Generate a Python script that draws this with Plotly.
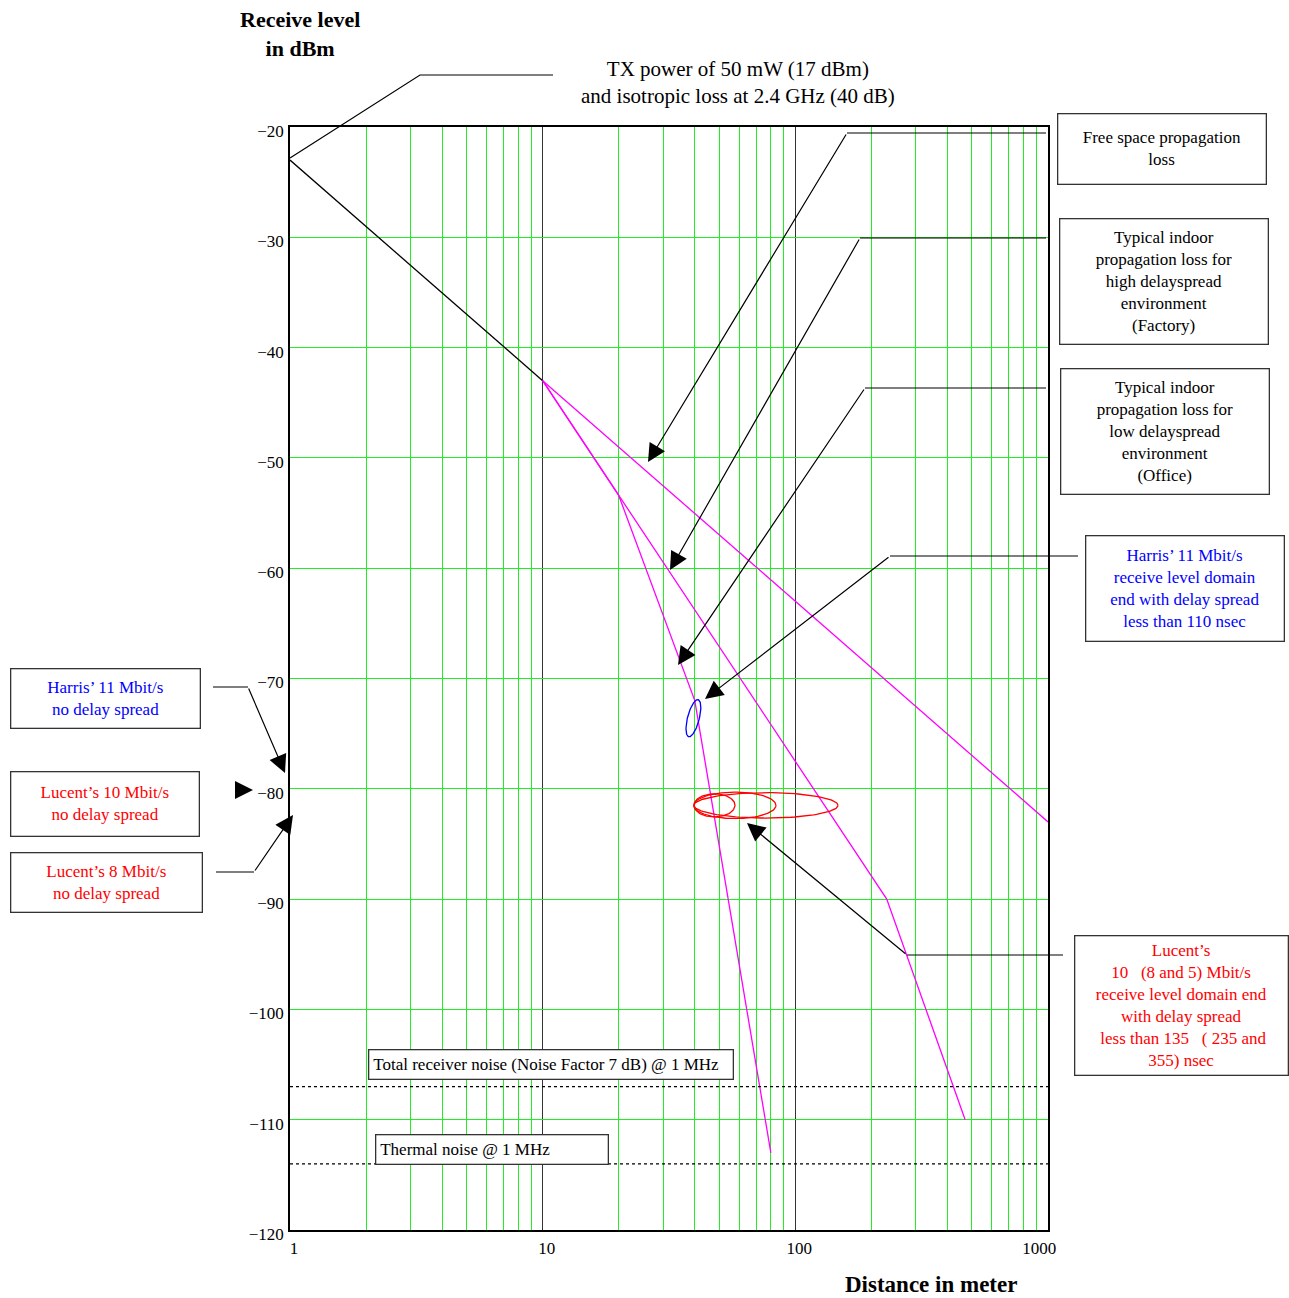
import numpy as np
import plotly.graph_objects as go

# propagation curves (distance in m, receive level in dBm)
free_near_x = [1, 10]
free_near_y = [-23, -43]
free_far_x = [10, 1000]
free_far_y = [-43, -83]
factory_x = [10, 230, 470]
factory_y = [-43, -90, -110]
office_x = [10, 20, 40, 80]
office_y = [-43, -53.4, -72, -113]

total_noise = -107
thermal_noise = -114

# receive level domain ends
harris_x = 39.5
harris_y = -73.6
harris_half_dec = 0.024
harris_half_db = 1.68
harris_shear_dec = 0.017

lucent_left = 39.7
lucent_right = [57.7, 83.8, 147.5]
lucent_level = -81.5
lucent_half_db = [1.05, 1.2, 1.15]

x_ticks = [1, 10, 100, 1000]
x_ticktext = ["1", "10", "100", "1000\u00a0\u00a0\u00a0\u00a0\u00a0\u00a0"]

SERIF = "Liberation Serif"
MAG = "#ff00ff"
GREEN = "#22ee22"


def px(x):
    return (x - 290) / 758


def py(y):
    return (1230 - y) / 1103


fig = go.Figure()

fig.add_trace(go.Scatter(x=free_near_x, y=free_near_y, mode="lines",
                         line=dict(color="black", width=1.3)))
fig.add_trace(go.Scatter(x=free_far_x, y=free_far_y, mode="lines",
                         line=dict(color=MAG, width=1.3)))
fig.add_trace(go.Scatter(x=factory_x, y=factory_y, mode="lines",
                         line=dict(color=MAG, width=1.3)))
fig.add_trace(go.Scatter(x=office_x, y=office_y, mode="lines",
                         line=dict(color=MAG, width=1.3)))

for lvl in [total_noise, thermal_noise]:
    fig.add_trace(go.Scatter(x=[1, 1000], y=[lvl, lvl], mode="lines",
                             line=dict(color="black", width=1.3, dash="dot")))

t = np.linspace(0, 2 * np.pi, 120)
lc = np.log10(harris_x)
fig.add_trace(go.Scatter(
    x=10 ** (lc + harris_half_dec * np.cos(t) + harris_shear_dec * np.sin(t)),
    y=harris_y + harris_half_db * np.sin(t),
    mode="lines", line=dict(color="blue", width=1.3)))

for right, half in zip(lucent_right, lucent_half_db):
    l0, l1 = np.log10(lucent_left), np.log10(right)
    fig.add_trace(go.Scatter(
        x=10 ** ((l0 + l1) / 2 + (l1 - l0) / 2 * np.cos(t)),
        y=lucent_level + half * np.sin(t),
        mode="lines", line=dict(color="red", width=1.3)))

shapes = []
anns = []

# leader polylines
def leader(points, head=None):
    path = "M " + " L ".join(f"{px(a)},{py(b)}" for a, b in points)
    shapes.append(dict(type="path", path=path, xref="paper", yref="paper",
                       line=dict(color="black", width=1.2)))
    if head:
        tx, ty = points[-1]
        anns.append(dict(x=px(head[0]), y=py(head[1]), xref="paper", yref="paper",
                         ax=tx - head[0], ay=ty - head[1], axref="pixel", ayref="pixel",
                         text="", showarrow=True, arrowhead=2, arrowsize=3,
                         arrowwidth=1.2, arrowcolor="black"))


leader([(290, 158), (420, 75), (553, 75)])
leader([(1046, 133), (847, 133)], head=(648, 462))
leader([(1046, 238), (860, 238)], head=(670, 570))
leader([(1046, 388), (865, 388)], head=(678, 665))
leader([(1078, 556), (890, 556)], head=(705, 699))
leader([(1063, 955), (907, 955)], head=(747, 823))
leader([(213, 687), (248, 687)], head=(285, 773))
leader([(237, 790), (238, 790)], head=(253, 790))
leader([(216, 872), (254, 872)], head=(293, 815))


def box(x0, y0, x1, y1, text, color="black", align="center"):
    anns.append(dict(x=px(x0), y=py(y0), xref="paper", yref="paper",
                     xanchor="left", yanchor="top", showarrow=False,
                     width=x1 - x0 - 2, height=y1 - y0 - 2, align=align,
                     valign="middle", text=text, bgcolor="white",
                     bordercolor="#333", borderwidth=1.3, borderpad=0,
                     font=dict(family=SERIF, size=17, color=color)))


box(1057, 113, 1266, 184, "Free space propagation<br>loss")
box(1059, 218, 1268, 344, "Typical indoor<br>propagation loss for<br>high delayspread<br>environment<br>(Factory)")
box(1060, 368, 1269, 494, "Typical indoor<br>propagation loss for<br>low delayspread<br>environment<br>(Office)")
box(1085, 535, 1284, 641, "Harris’ 11 Mbit/s<br>receive level domain<br>end with delay spread<br>less than 110 nsec", "blue")
box(1074, 935, 1288, 1075, "Lucent’s<br>10   (8 and 5) Mbit/s<br>receive level domain end<br>with delay spread<br> less than 135   ( 235 and<br>355) nsec", "red")
box(10, 668, 200, 728, "Harris’ 11 Mbit/s<br>no delay spread", "blue")
box(10, 771, 199, 836, "Lucent’s 10 Mbit/s<br>no delay spread", "red")
box(10, 852, 202, 912, "Lucent’s 8 Mbit/s<br>no delay spread", "red")
box(368, 1049, 733, 1079, " Total receiver noise (Noise Factor 7 dB) @ 1 MHz", align="left")
box(375, 1134, 608, 1164, " Thermal noise @ 1 MHz", align="left")


def label(x, y, text, size):
    anns.append(dict(x=px(x), y=py(y), xref="paper", yref="paper", showarrow=False,
                     xanchor="center", yanchor="middle", text=text,
                     font=dict(family=SERIF, size=size, color="black")))


label(300, 34, "<b>Receive level<br>in dBm</b>", 22)
label(738, 83, "TX power of 50 mW (17 dBm)<br>and isotropic loss at 2.4 GHz (40 dB)", 21)
label(931, 1284, "<b>Distance in meter</b>", 23)

fig.update_layout(
    width=1289, height=1298,
    margin=dict(l=290, r=241, t=127, b=68),
    paper_bgcolor="white", plot_bgcolor="white",
    showlegend=False,
    shapes=shapes, annotations=anns,
    font=dict(family=SERIF, size=17, color="black"),
)
fig.update_xaxes(type="log", range=[0, 3],
                 tickmode="array", tickvals=x_ticks, ticktext=x_ticktext,
                 showgrid=True, gridcolor="#333", gridwidth=1,
                 minor=dict(dtick="D1", showgrid=True, gridcolor=GREEN, gridwidth=1),
                 showline=True, mirror=True, linecolor="black", linewidth=1.6,
                 ticks="", ticklabelstandoff=2, ticklabelshift=4, zeroline=False)
fig.update_yaxes(range=[-120, -20], dtick=10,
                 showgrid=True, gridcolor=GREEN, gridwidth=1,
                 showline=True, mirror=True, linecolor="black", linewidth=1.6,
                 ticks="", ticklabelstandoff=1, ticklabelshift=4, zeroline=False)

# drop the default body margin so the figure fills the window
fig.write_html("out.html", config={"displayModeBar": False},
               post_script="document.body.style.margin='0';document.body.style.overflow='hidden';")
